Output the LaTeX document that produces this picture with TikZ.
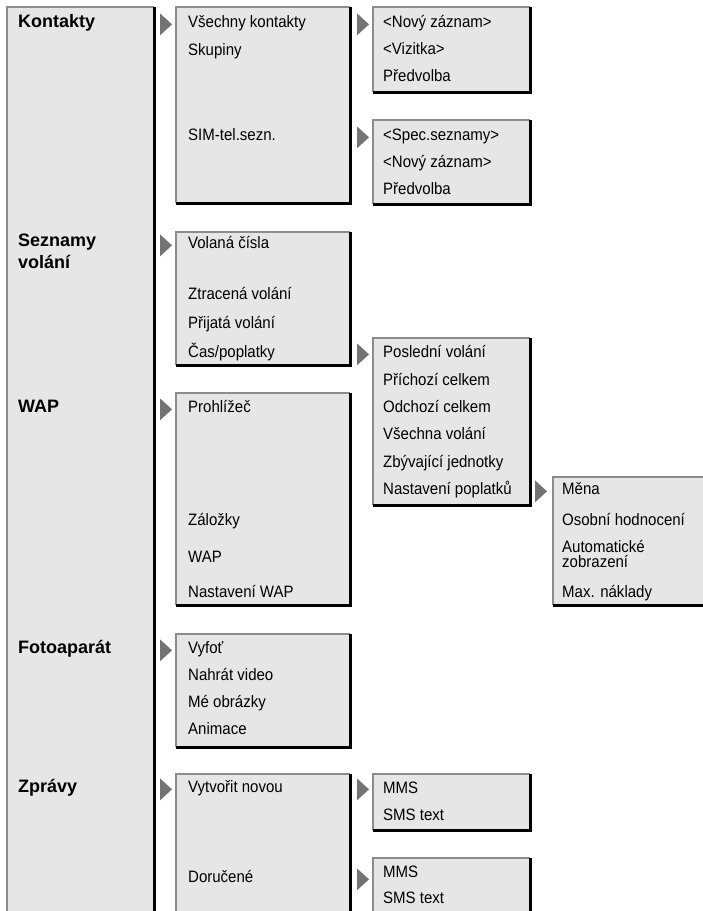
\documentclass[tikz,border=0pt]{standalone}
\usepackage{fontspec}
\setmainfont{Liberation Sans}
\newfontfamily\itemfont{Liberation Sans}[FakeStretch=0.91]
\usetikzlibrary{positioning}
\definecolor{MenuFill}{RGB}{230,230,230}
\definecolor{MenuEdge}{RGB}{140,140,140}
\definecolor{MenuArrow}{RGB}{115,115,115}
\newcommand{\menubox}[4]{%
  \fill[MenuFill] (#1,#2) rectangle (#3,#4);
  \draw[MenuEdge,line width=1.2pt] (#1,#4) -- (#1,#2) -- (#3,#2);
  \draw[black,line width=3pt] (#1,#4) -- (#3,#4) -- (#3,#2);}

\begin{document}
\begin{tikzpicture}[x=1pt,y=-1pt,
head/.style={anchor=base west,inner sep=0pt,font=\bfseries\fontsize{18}{18}\selectfont},
item/.style={anchor=base west,inner sep=0pt,font=\itemfont\fontsize{16.5}{15}\selectfont},
twoline/.style={item,align=left},
pics/pointer/.style={code={\fill[MenuArrow] (-6,-11) -- (6,0) -- (-6,11) -- cycle;}}
]
\useasboundingbox (0,0) rectangle (703,911);
\clip (0,0) rectangle (703,911);

\menubox{7}{7}{154}{930}
\menubox{176}{7}{350}{203}
\menubox{176}{232}{350}{365}
\menubox{176}{393}{350}{605}
\menubox{176}{634}{350}{747}
\menubox{176}{774}{350}{930}
\menubox{373}{7}{530}{92}
\menubox{373}{120}{530}{204}
\menubox{373}{338}{530}{505}
\menubox{373}{774}{530}{830}
\menubox{373}{858}{530}{930}
\menubox{553}{477}{720}{605}

\coordinate (col1) at (166,0);
\coordinate (col2) at (363,0);
\coordinate (col3) at (541,0);

\node[head] (kon) at (18,27) {Kontakty};
\node[head] (sez) at (18,246) {Seznamy};
\node[head] (sez2) at (18,268) {volání};
\node[head] (wap) at (18,412) {WAP};
\node[head] (foto) at (18,653) {Fotoaparát};
\node[head] (zpr) at (18,792) {Zprávy};

\node[item] (k1) at (188,27) {Všechny kontakty};
\node[item] (k2) at (188,55) {Skupiny};
\node[item] (k3) at (188,140) {SIM-tel.sezn.};
\node[item] (s1) at (188,248) {Volaná čísla};
\node[item] (s2) at (188,299) {Ztracená volání};
\node[item] (s3) at (188,328) {Přijatá volání};
\node[item] (s4) at (188,357) {Čas/poplatky};
\node[item] (w1) at (188,412) {Prohlížeč};
\node[item] (w2) at (188,525) {Záložky};
\node[item] (w3) at (188,562) {WAP};
\node[item] (w4) at (188,597) {Nastavení WAP};
\node[item] (f1) at (188,653) {Vyfoť};
\node[item] (f2) at (188,680) {Nahrát video};
\node[item] (f3) at (188,707) {Mé obrázky};
\node[item] (f4) at (188,734) {Animace};
\node[item] (z1) at (188,792) {Vytvořit novou};
\node[item] (z2) at (188,882) {Doručené};

\node[item] (ka1) at (383,27) {<Nový záznam>};
\node[item] (ka2) at (383,54) {<Vizitka>};
\node[item] (ka3) at (383,81) {Předvolba};
\node[item] (kb1) at (383,140) {<Spec.seznamy>};
\node[item] (kb2) at (383,167) {<Nový záznam>};
\node[item] (kb3) at (383,194) {Předvolba};
\node[item] (c1) at (383,357) {Poslední volání};
\node[item] (c2) at (383,385) {Příchozí celkem};
\node[item] (c3) at (383,412) {Odchozí celkem};
\node[item] (c4) at (383,439) {Všechna volání};
\node[item] (c5) at (383,467) {Zbývající jednotky};
\node[item] (c6) at (383,494) {Nastavení poplatků};
\node[item] (za1) at (383,793) {MMS};
\node[item] (za2) at (383,820) {SMS text};
\node[item] (zb1) at (383,877) {MMS};
\node[item] (zb2) at (383,903) {SMS text};

\node[item] (p1) at (562,494) {Měna};
\node[item] (p2) at (562,525) {Osobní hodnocení};
\node[twoline] (p3) at (562,567) {Automatické\\zobrazení};
\node[item] (p4) at (562,597) {Max. náklady};

\pic at (col1 |- k1.mid) {pointer};
\pic at (col1 |- s1.mid) {pointer};
\pic at (col1 |- w1.mid) {pointer};
\pic at (col1 |- f1.mid) {pointer};
\pic at (col1 |- z1.mid) {pointer};
\pic at (col2 |- k1.mid) {pointer};
\pic at (col2 |- k3.mid) {pointer};
\pic at (col2 |- s4.mid) {pointer};
\pic at (col2 |- z1.mid) {pointer};
\pic at (col2 |- z2.mid) {pointer};
\pic at (col3 |- c6.mid) {pointer};
\end{tikzpicture}
\end{document}
